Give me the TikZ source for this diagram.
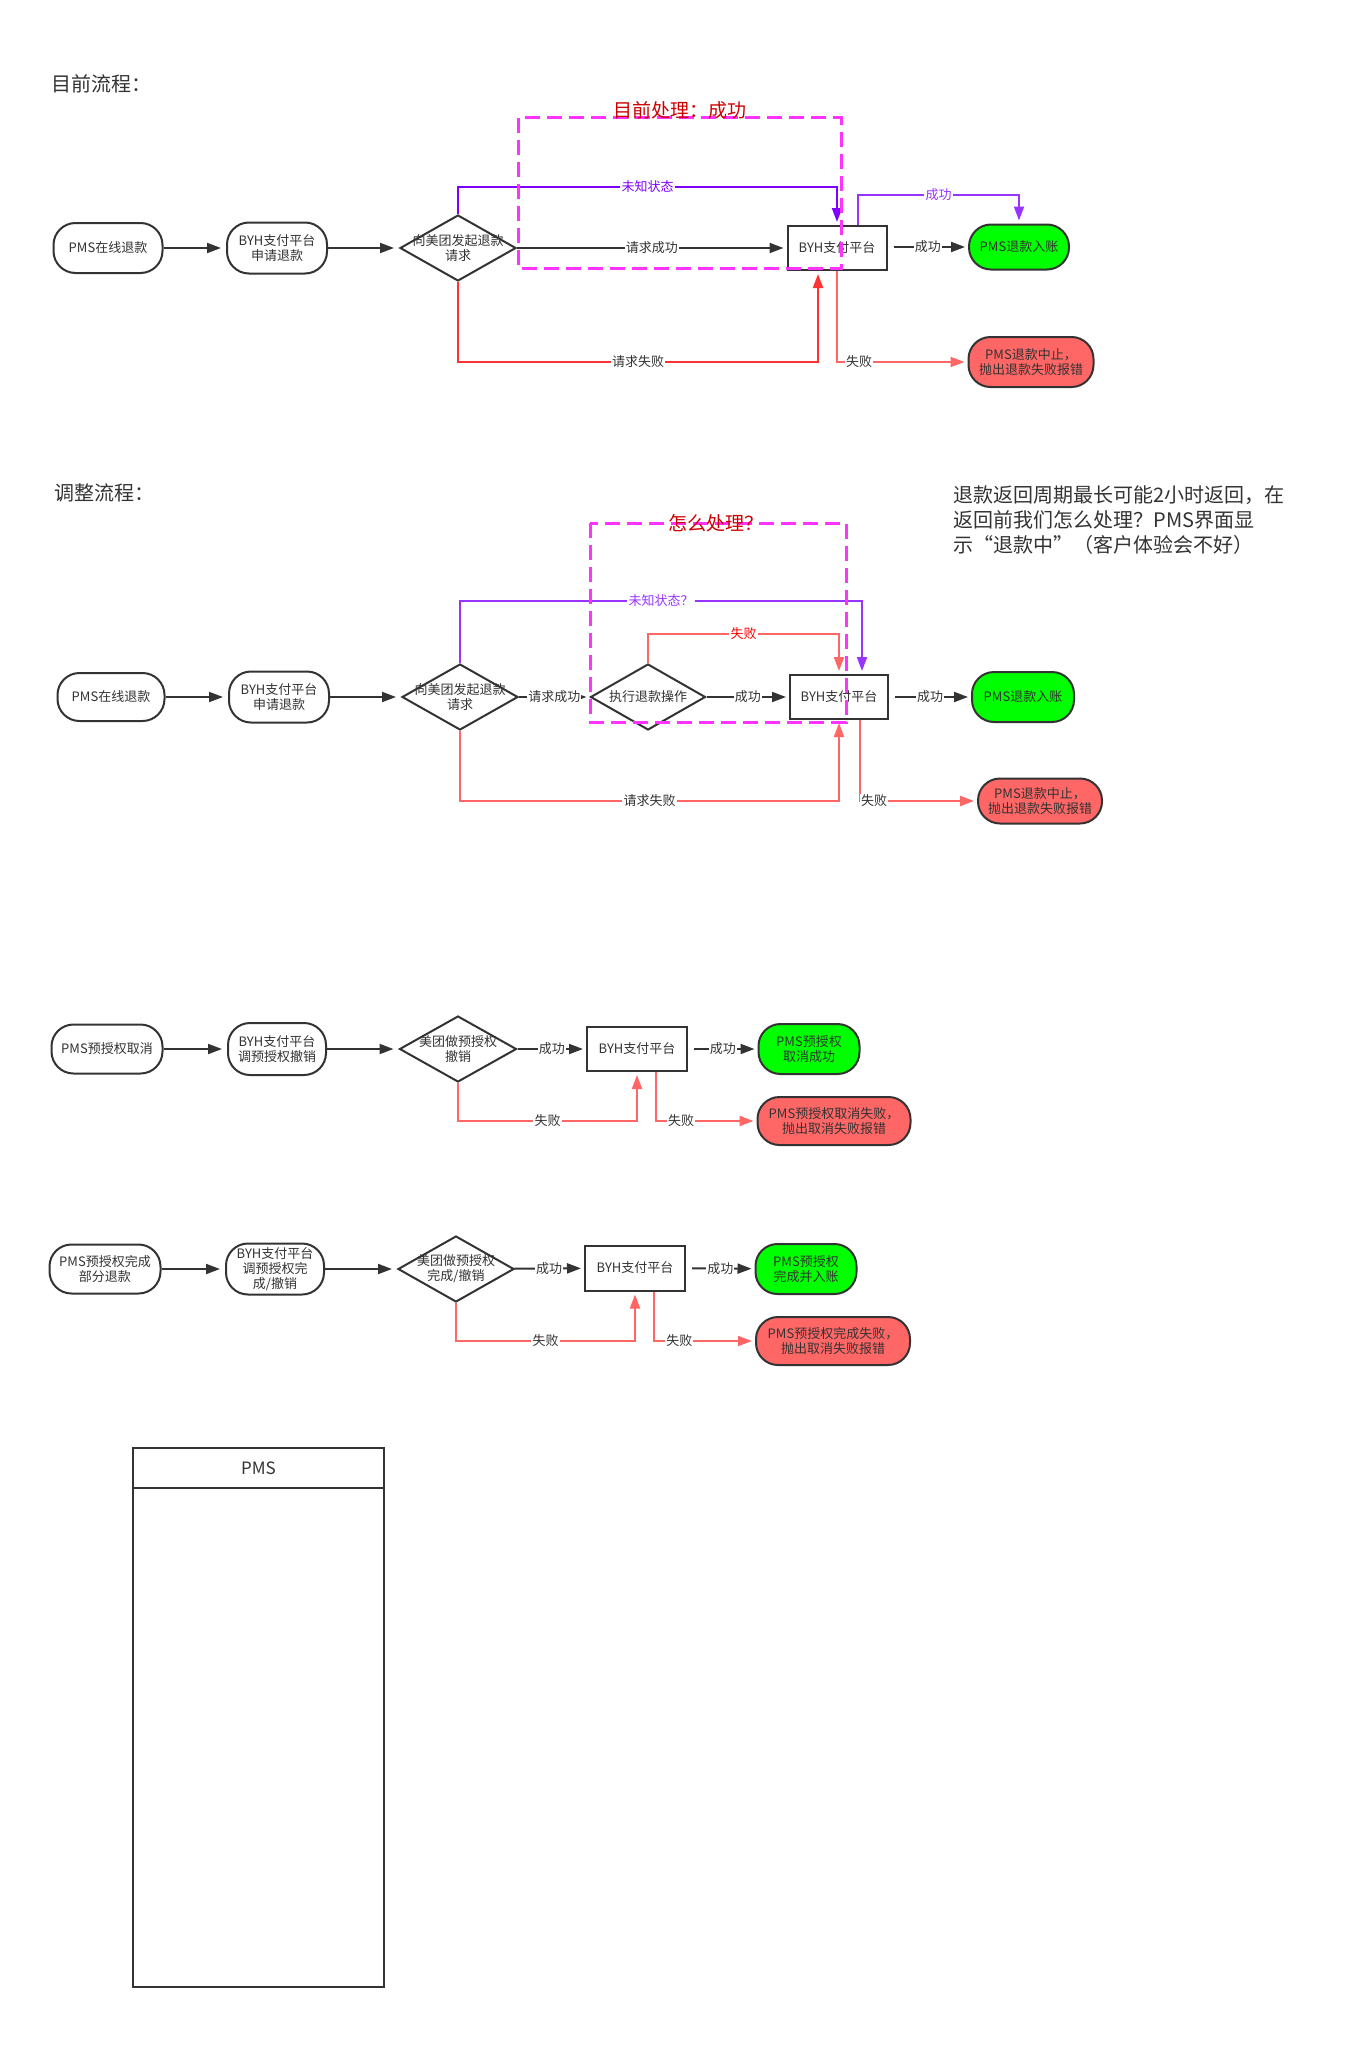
\documentclass[tikz,border=0pt]{standalone}
\usepackage{fontspec}
\setmainfont{Noto Sans CJK SC}
\usetikzlibrary{shapes.geometric,arrows.meta}
\definecolor{ink}{HTML}{333333}
\definecolor{violetA}{HTML}{7F00FF}
\definecolor{violetB}{HTML}{9933FF}
\definecolor{redA}{HTML}{FF3333}
\definecolor{redB}{HTML}{FF6666}
\definecolor{okgreen}{HTML}{00FF00}
\definecolor{zonepink}{HTML}{FF33FF}
\definecolor{zonered}{HTML}{CC0000}
\newcommand\smallfont{\fontsize{6.5pt}{7.5pt}\selectfont}
\begin{document}
\begin{tikzpicture}[x=0.5pt,y=-0.5pt,
    terminal/.style={rectangle,rounded corners=11pt,draw=ink,line width=1pt,fill=white,
      inner sep=0pt,align=center,text=ink,font=\smallfont},
    okbox/.style={terminal,fill=okgreen},
    failbox/.style={terminal,fill=redB},
    platform/.style={rectangle,draw=ink,line width=1pt,fill=white,inner sep=0pt,
      minimum width=49.5pt,minimum height=22pt,text=ink,font=\smallfont},
    decision/.style={diamond,draw=ink,line width=1pt,fill=white,inner sep=0pt,
      minimum width=58pt,minimum height=33pt},
    dtext/.style={align=center,text=ink,inner sep=0pt,font=\smallfont},
    lbl/.style={fill=white,inner sep=0.6pt,text=ink,font=\smallfont},
    flow/.style={draw=ink,line width=1pt,-{Triangle[length=7pt,width=5pt]},shorten >=1.5pt},
    zone/.style={draw=zonepink,line width=1.5pt,dash pattern=on 7.5pt off 3.5pt},
    zonetitle/.style={text=zonered,inner sep=0pt,font=\fontsize{9.5pt}{11pt}\selectfont},
    heading/.style={anchor=west,text=ink,inner sep=0pt,font=\fontsize{10pt}{12pt}\selectfont}]
\fill[white] (0,0) rectangle (1362,2050);
\useasboundingbox (0,0) rectangle (1362,2050);

% current flow
\node (title1) at (51,84) [heading] {目前流程：};
\node (s1pms) at (108,248) [terminal,minimum width=54.5pt,minimum height=25pt] {PMS在线退款};
\node (s1byh) at (277,248) [terminal,minimum width=50pt,minimum height=25.5pt] {BYH支付平台\\申请退款};
\node (s1req) at (458,248) [decision] {};
\node (s1reqtxt) at (s1req) [dtext] {向美团发起退款\\请求};
\node (s1plat) at (837,248) [platform] {BYH支付平台};
\node (s1ok) at (1019,247) [okbox,minimum width=50pt,minimum height=22.5pt] {PMS退款入账};
\node (s1fail) at (1031,362) [failbox,minimum width=62.5pt,minimum height=25pt] {PMS退款中止，\\抛出退款失败报错};
\draw (s1pms) edge[flow,shorten >=2.5pt] (s1byh);
\draw (s1byh) edge[flow,shorten >=2.5pt] (s1req);
\draw (s1req) edge[flow] node[lbl] {请求成功} (s1plat);
\draw (s1plat.east |- s1ok) edge[flow,shorten <=3pt] node[lbl] {成功} (s1ok);
\draw[flow,draw=violetA] (s1req.north) -- (458,187) -- node[lbl,text=violetA] {未知状态} (837,187) -- (s1plat.north);
\draw[flow,draw=violetB] ([xshift=10.5pt]s1plat.north) -- (858,195) -- node[lbl,text=violetB] {成功} (1019,195) -- (s1ok.north);
\draw[flow,draw=redA] (s1req.south) -- (458,362) -- node[lbl] {请求失败} (818,362) -- ([xshift=-9.5pt]s1plat.south);
\draw[flow,draw=redB] (s1plat.south) -- (837,362) -- node[lbl,pos=0.17] {失败} (s1fail.west);
\draw[zone] (518,118) rectangle (841,268);
\node (s1zone) at (680,110) [zonetitle] {目前处理：成功};

% adjusted flow
\node (title2) at (54,493) [heading] {调整流程：};
\node (note) at (953,520) [heading,align=left,font=\fontsize{10pt}{12.5pt}\selectfont] {退款返回周期最长可能2小时返回，在\\返回前我们怎么处理？PMS界面显\\示“退款中”（客户体验会不好）};
\node (s2pms) at (111,697) [terminal,minimum width=53.5pt,minimum height=24pt] {PMS在线退款};
\node (s2byh) at (279,697) [terminal,minimum width=50pt,minimum height=25.5pt] {BYH支付平台\\申请退款};
\node (s2req) at (460,697) [decision] {};
\node (s2reqtxt) at (s2req) [dtext] {向美团发起退款\\请求};
\node (s2exec) at (648,697) [decision,minimum width=57.5pt] {};
\node (s2exectxt) at (s2exec) [dtext] {执行退款操作};
\node (s2plat) at (839,697) [platform,minimum width=49pt] {BYH支付平台};
\node (s2ok) at (1023,697) [okbox,minimum width=51pt,minimum height=25pt] {PMS退款入账};
\node (s2fail) at (1040,801) [failbox,minimum width=62pt,minimum height=22.5pt] {PMS退款中止，\\抛出退款失败报错};
\draw (s2pms) edge[flow,shorten >=2.5pt] (s2byh);
\draw (s2byh) edge[flow,shorten >=2.5pt] (s2req);
\draw (s2req) edge[flow] node[lbl] {请求成功} (s2exec);
\draw (s2exec) edge[flow] node[lbl] {成功} (s2plat);
\draw (s2plat) edge[flow,shorten <=3pt] node[lbl] {成功} (s2ok);
\draw[flow,draw=violetB] (s2req.north) -- (460,601) -- node[lbl,text=violetB] {未知状态？} (862,601) -- ([xshift=11.5pt]s2plat.north);
\draw[flow,draw=redB] (s2exec.north) -- (648,634) -- node[lbl,text=red] {失败} (839,634) -- (s2plat.north);
\draw[flow,draw=redB] (s2req.south) -- (460,801) -- node[lbl] {请求失败} (839,801) -- (s2plat.south);
\draw[flow,draw=redB] ([xshift=10.5pt]s2plat.south) -- (860,801) -- node[lbl,pos=0.12] {失败} (s2fail.west);
\draw[zone] (590,523) rectangle (846,722);
\node (s2zone) at (716,523) [zonetitle] {怎么处理？};

% pre-authorisation cancel
\node (s3pms) at (107,1049) [terminal,minimum width=55.5pt,minimum height=24.5pt] {PMS预授权取消};
\node (s3byh) at (277,1049) [terminal,minimum width=49pt,minimum height=26pt] {BYH支付平台\\调预授权撤销};
\node (s3req) at (458,1049) [decision,minimum width=58.5pt] {};
\node (s3reqtxt) at (s3req) [dtext] {美团做预授权\\撤销};
\node (s3plat) at (637,1049) [platform,minimum width=50pt] {BYH支付平台};
\node (s3ok) at (809,1049) [okbox,minimum width=50.5pt,minimum height=25pt] {PMS预授权\\取消成功};
\node (s3fail) at (834,1121) [failbox,minimum width=76.5pt,minimum height=24pt] {PMS预授权取消失败，\\抛出取消失败报错};
\draw (s3pms) edge[flow,shorten >=2.5pt] (s3byh);
\draw (s3byh) edge[flow,shorten >=2.5pt] (s3req);
\draw (s3req) edge[flow] node[lbl] {成功} (s3plat);
\draw (s3plat) edge[flow,shorten <=3pt] node[lbl] {成功} (s3ok);
\draw[flow,draw=redB] (s3req.south) -- (458,1121) -- node[lbl] {失败} (637,1121) -- (s3plat.south);
\draw[flow,draw=redB] ([xshift=9.5pt]s3plat.south) -- (656,1121) -- node[lbl,pos=0.25] {失败} (s3fail.west);

% pre-authorisation complete
\node (s4pms) at (105,1269) [terminal,minimum width=55.5pt,minimum height=24.5pt] {PMS预授权完成\\部分退款};
\node (s4byh) at (275,1269) [terminal,minimum width=49pt,minimum height=25.5pt] {BYH支付平台\\调预授权完\\成/撤销};
\node (s4req) at (456,1269) [decision] {};
\node (s4reqtxt) at (s4req) [dtext] {美团做预授权\\完成/撤销};
\node (s4plat) at (635,1268) [platform,minimum width=50pt,minimum height=22.5pt] {BYH支付平台};
\node (s4ok) at (806,1269) [okbox,minimum width=50.5pt,minimum height=25pt] {PMS预授权\\完成并入账};
\node (s4fail) at (833,1341) [failbox,minimum width=77pt,minimum height=24pt] {PMS预授权完成失败，\\抛出取消失败报错};
\draw (s4pms) edge[flow,shorten >=2.5pt] (s4byh);
\draw (s4byh) edge[flow,shorten >=2.5pt] (s4req);
\draw (s4req) edge[flow] node[lbl] {成功} (s4plat);
\draw (s4plat) edge[flow,shorten <=3pt] node[lbl] {成功} (s4ok);
\draw[flow,draw=redB] (s4req.south) -- (456,1341) -- node[lbl] {失败} (635,1341) -- (s4plat.south);
\draw[flow,draw=redB] ([xshift=9.5pt]s4plat.south) -- (654,1341) -- node[lbl,pos=0.25] {失败} (s4fail.west);

% lane
\draw[draw=ink,line width=1pt] (133,1448) rectangle (384,1987);
\draw[draw=ink,line width=1pt] (133,1488) -- (384,1488);
\node (lanetitle) at (258.5,1468) [text=ink,font=\fontsize{8.5pt}{10pt}\selectfont] {PMS};
\end{tikzpicture}
\end{document}
